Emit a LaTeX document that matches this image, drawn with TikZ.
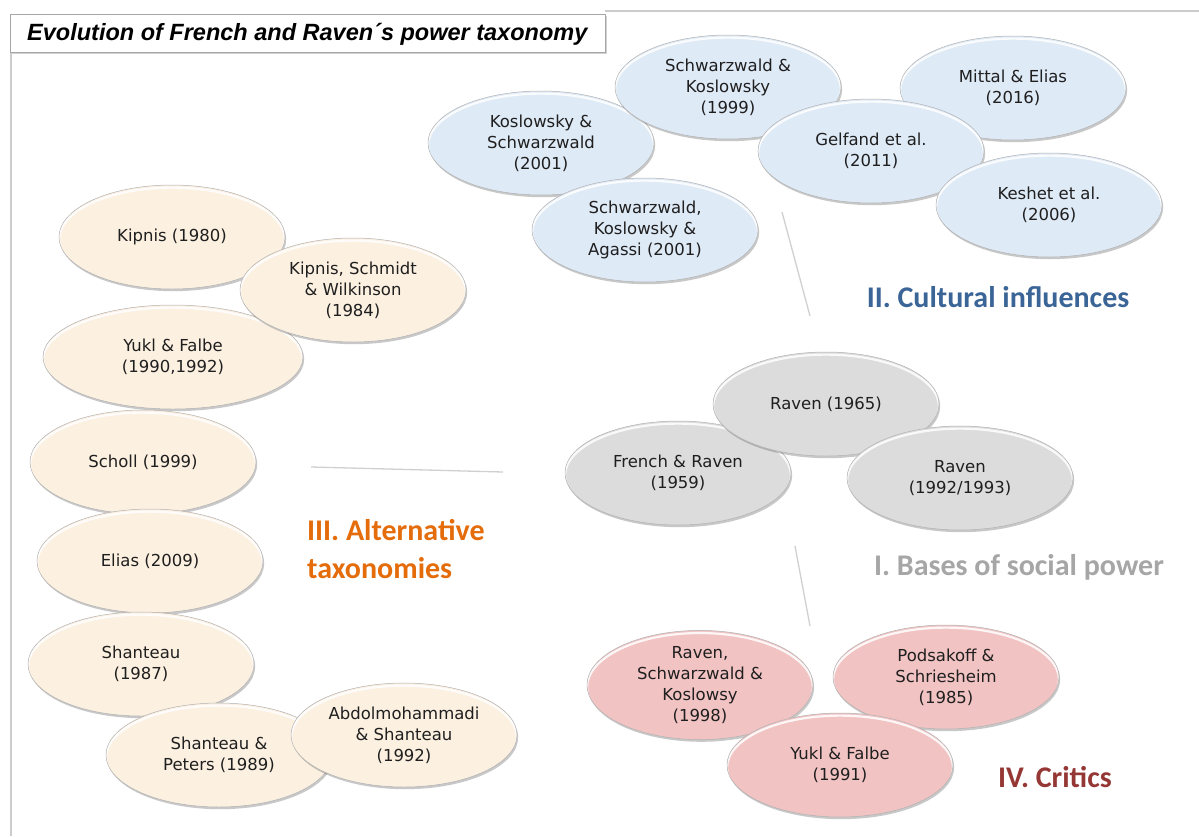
\documentclass[tikz,border=0pt]{standalone}
\usepackage{fontspec}
\setmainfont{DejaVu Sans}
\newfontfamily\titlefont{Liberation Sans}
\newfontfamily\headfont{Carlito}
\usetikzlibrary{shapes.geometric,shadows,calc}

\definecolor{cultfill}{HTML}{DFEAF7}
\definecolor{basefill}{HTML}{DCDCDC}
\definecolor{critfill}{HTML}{F2C3C3}
\definecolor{altfill}{HTML}{FCF0E1}
\definecolor{culttext}{HTML}{3A6596}
\definecolor{basetext}{HTML}{A6A6A6}
\definecolor{alttext}{HTML}{E46C0A}
\definecolor{crittext}{HTML}{953734}
\definecolor{rulegray}{HTML}{D0D0D0}

\tikzset{
  bubble/.style={ellipse, inner sep=0pt, align=center,
    minimum width=226pt, minimum height=104pt,
    font=\fontsize{16.5}{21}\selectfont, text=black!88,
    draw=black!30, line width=0.5pt,
    drop shadow={shadow xshift=1.2pt, shadow yshift=-2.2pt, opacity=0.3, fill=black!70},
    path picture={
      \path let \p1=(path picture bounding box.north east),
                \p2=(path picture bounding box.center) in
        [draw=white, line width=2.2pt, opacity=0.85]
        ([yshift=-2.6pt]\p2) ellipse [x radius={\x1-\x2}, y radius={\y1-\y2}];
    }},
  cult/.style={bubble, fill=cultfill},
  base/.style={bubble, fill=basefill},
  crit/.style={bubble, fill=critfill},
  alt/.style={bubble, fill=altfill},
  heading/.style={font=\headfont\bfseries\fontsize{30}{36}\selectfont, inner sep=0pt},
  connector/.style={draw=rulegray, line width=1.3pt},
  framerule/.style={draw=black!20, line width=1.2pt}
}

\begin{document}
\begin{tikzpicture}[x=1pt,y=-1pt]
\useasboundingbox (0,0) rectangle (1199,836);
\fill[white] (0,0) rectangle (1199,836);

% page frame
\coordinate (ftl) at (605,11);
\coordinate (ftr) at (1199,11);
\coordinate (fl1) at (11,52);
\coordinate (fl2) at (11,836);
\draw[framerule] (ftl) -- (ftr);
\draw[framerule] (fl1) -- (fl2);

% title
\node[draw=black!35, line width=0.6pt, fill=white, inner sep=0pt,
      minimum width=595pt, minimum height=38pt,
      drop shadow={shadow xshift=1.5pt, shadow yshift=-1.5pt, opacity=0.35}]
  (titlebox) at (307.5,33) {};
\node[anchor=west, inner sep=0pt,
      font=\titlefont\bfseries\itshape\fontsize{23.5}{28}\selectfont]
  (title) at (27,34) {Evolution of French and Raven´s power taxonomy};

% connector lines
\coordinate (c1a) at (782,212); \coordinate (c1b) at (810,316);
\coordinate (c2a) at (311,467); \coordinate (c2b) at (503,472);
\coordinate (c3a) at (795,546); \coordinate (c3b) at (810,626);
\draw[connector] (c1a) -- (c1b);
\draw[connector] (c2a) -- (c2b);
\draw[connector] (c3a) -- (c3b);

% II. Cultural influences
\node[cult] (ks01) at (541,143) {Koslowsky \&\\Schwarzwald\\(2001)};
\node[cult] (sk99) at (728,87) {Schwarzwald \&\\Koslowsky\\(1999)};
\node[cult] (ska01) at (645,230) {Schwarzwald,\\Koslowsky \&\\Agassi (2001)};
\node[cult] (me16) at (1013,88) {Mittal \& Elias\\(2016)};
\node[cult] (gel11) at (871,151) {Gelfand et al.\\(2011)};
\node[cult] (kes06) at (1049,205) {Keshet et al.\\(2006)};
\node[heading, text=culttext] (lcult) at (998,297) {II. Cultural influences};

% I. Bases of social power
\node[base] (fr59) at (678,473) {French \& Raven\\(1959)};
\node[base] (rv65) at (826,404) {Raven (1965)};
\node[base] (rv92) at (960,478) {Raven\\(1992/1993)};
\node[heading, text=basetext] (lbase) at (1019,567) {I. Bases of social power};

% IV. Critics
\node[crit] (rsk98) at (700,685) {Raven,\\Schwarzwald \&\\Koslowsy\\(1998)};
\node[crit] (ps85) at (946,677) {Podsakoff \&\\Schriesheim\\(1985)};
\node[crit] (yf91) at (840,765) {Yukl \& Falbe\\(1991)};
\node[heading, text=crittext] (lcrit) at (1055,777) {IV. Critics};

% III. Alternative taxonomies
\node[alt] (kip80) at (172,237) {Kipnis (1980)};
\node[alt, minimum width=260pt] (yf90) at (173,357) {Yukl \& Falbe\\(1990,1992)};
\node[alt] (ksw84) at (353,290) {Kipnis, Schmidt\\\& Wilkinson\\(1984)};
\node[alt] (sch99) at (143,462) {Scholl (1999)};
\node[alt] (eli09) at (150,561) {Elias (2009)};
\node[alt] (sha87) at (141,664) {Shanteau\\(1987)};
\node[alt] (shp89) at (219,755) {Shanteau \&\\Peters (1989)};
\node[alt] (abd92) at (404,735) {Abdolmohammadi\\\& Shanteau\\(1992)};
\node[heading, text=alttext, anchor=north west, align=left,
      font=\headfont\bfseries\fontsize{30}{38}\selectfont] (lalt) at (307,519)
  {III. Alternative\\taxonomies};
\end{tikzpicture}
\end{document}
